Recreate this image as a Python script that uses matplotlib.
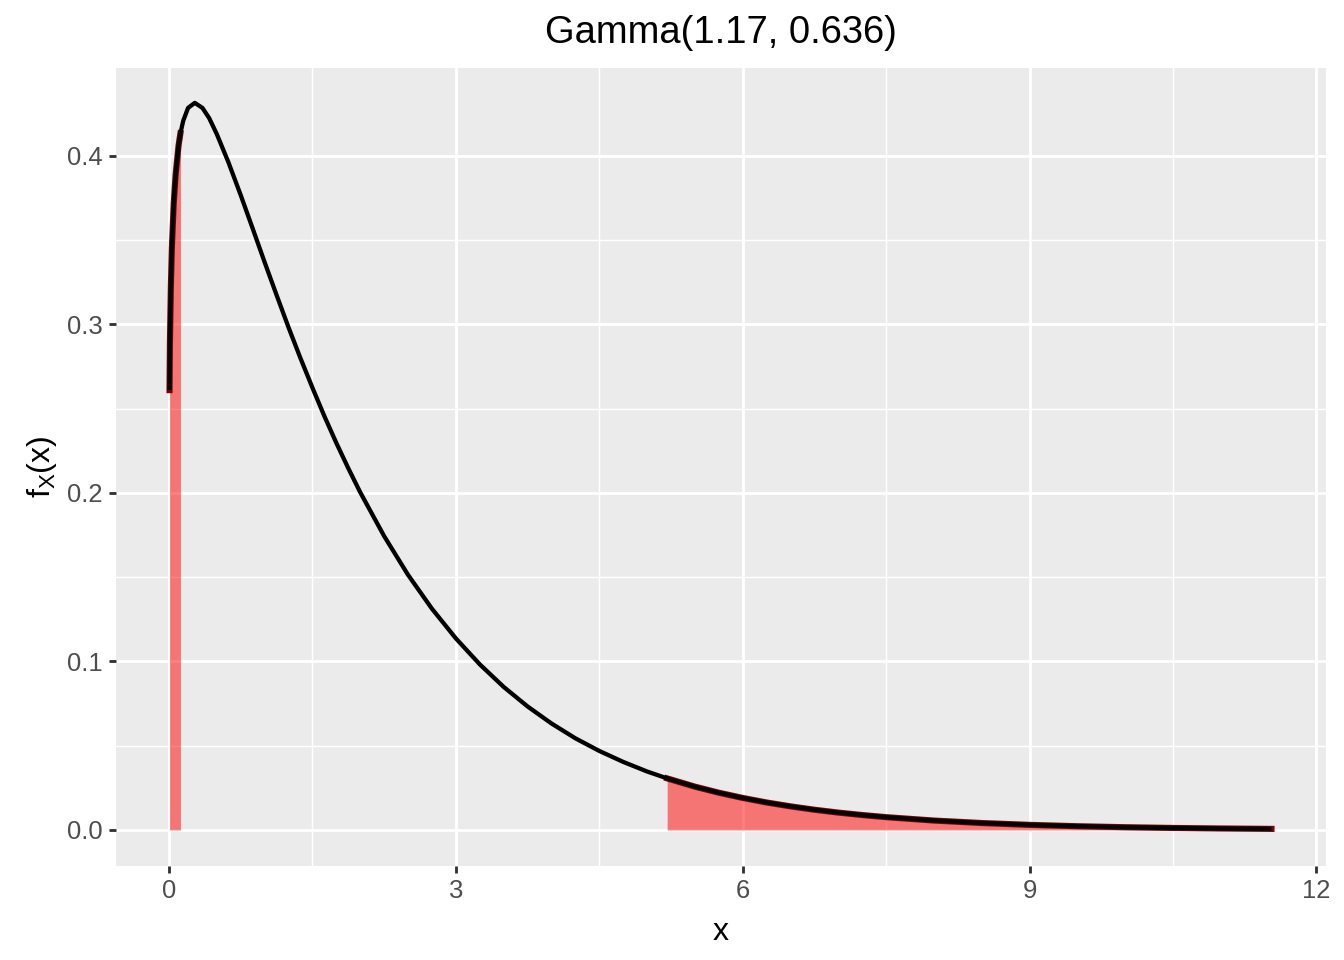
import matplotlib
matplotlib.use("Agg")
import matplotlib.pyplot as plt
import numpy as np

plt.rcParams['font.family'] = ['Liberation Sans', 'DejaVu Sans']
plt.rcParams['mathtext.default'] = 'regular'

# density curve
x_vals = [0.006, 0.01, 0.02, 0.03, 0.05, 0.07, 0.1, 0.12, 0.15, 0.2, 0.27, 0.35,
          0.42, 0.5, 0.62, 0.75, 0.875, 1.0, 1.125, 1.25, 1.375, 1.5, 1.625,
          1.75, 1.875, 2.0, 2.25, 2.5, 2.75, 3.0, 3.25, 3.5, 3.75, 4.0, 4.25,
          4.5, 4.75, 5.0, 5.21, 5.5, 5.75, 6.0, 6.25, 6.5, 6.75, 7.0, 7.25,
          7.5, 8.0, 8.5, 9.0, 9.5, 10.0, 10.5, 11.0, 11.53]
fx_vals = [0.2610, 0.289, 0.3226, 0.3450, 0.3720, 0.3890, 0.4060, 0.4135, 0.4210,
           0.4285, 0.4315, 0.4285, 0.4225, 0.4130, 0.3965, 0.3768, 0.3570, 0.3370,
           0.3175, 0.2983, 0.2800, 0.2625, 0.2456, 0.2297, 0.2147, 0.2004, 0.1744,
           0.1514, 0.1313, 0.1137, 0.0983, 0.0849, 0.0733, 0.0632, 0.0544, 0.0469,
           0.0404, 0.0347, 0.0306, 0.0257, 0.0221, 0.0190, 0.0163, 0.0140, 0.0120,
           0.0103, 0.00885, 0.00759, 0.00558, 0.00411, 0.00302, 0.00222, 0.00163,
           0.00119, 0.000875, 0.00063]

lower_cut = 0.12
upper_cut = 5.21

title = "Gamma(1.17, 0.636)"
x_ticks = [0, 3, 6, 9, 12]
y_ticks = [0.0, 0.1, 0.2, 0.3, 0.4]

x = np.array(x_vals)
fx = np.array(fx_vals)

fig = plt.figure(figsize=(7, 5), dpi=192)
ax = fig.add_axes([0.0863, 0.0979, 0.9003, 0.8313])
ax.set_facecolor('#EBEBEB')

ax.set_xlim(-0.554, 12.10)
ax.set_ylim(-0.0214, 0.4522)

ax.set_xticks(x_ticks)
ax.set_xticks([1.5, 4.5, 7.5, 10.5], minor=True)
ax.set_yticks(y_ticks)
ax.set_yticks([0.05, 0.15, 0.25, 0.35], minor=True)
ax.set_yticklabels([f"{v:.1f}" for v in y_ticks])
ax.grid(which='major', color='white', linewidth=1.07)
ax.grid(which='minor', color='white', linewidth=0.53)
ax.set_axisbelow(True)
for s in ax.spines.values():
    s.set_visible(False)
ax.tick_params(which='major', length=2.75, width=1.07, color='#333333',
               labelcolor='#4D4D4D', labelsize=9.6, pad=2.2)
ax.tick_params(which='minor', length=0)

# tails
low = x <= lower_cut
high = x >= upper_cut
for m in (low, high):
    ax.fill_between(x[m], 0, fx[m], color='red', alpha=0.5, linewidth=0, zorder=2)
    ax.plot(x[m], fx[m], color='#800000', linewidth=2.3, zorder=3)

ax.plot(x, fx, color='black', linewidth=1.6, zorder=4, solid_capstyle='butt')

ax.set_title(title, fontsize=14.3, pad=9.3)
ax.set_xlabel("x", fontsize=12, labelpad=5)
ax.set_ylabel("f$_{X}$(x)", fontsize=12, labelpad=3)

fig.savefig("out.png", dpi=192)
